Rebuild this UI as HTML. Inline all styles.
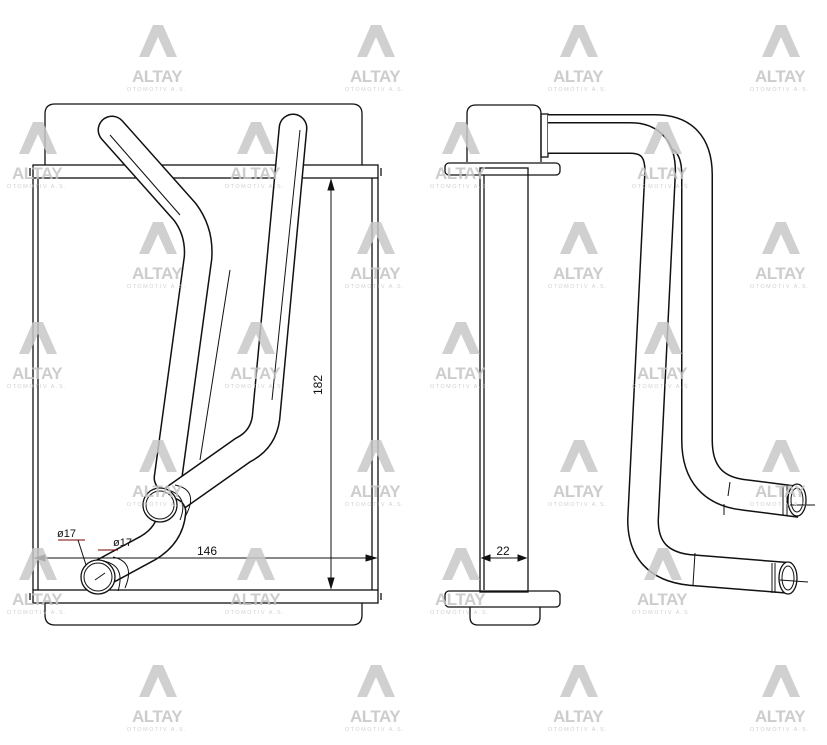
<!DOCTYPE html>
<html><head><meta charset="utf-8"><style>
html,body{margin:0;padding:0;background:#fff;}
svg{display:block;}
</style></head><body>
<svg width="827" height="745" viewBox="0 0 827 745" xmlns="http://www.w3.org/2000/svg" font-family="Liberation Sans, sans-serif">
<defs>
<g id="wm">
  <polygon points="-4,0 6,0 20,32 10,32 1,12 -8,32 -18,32" fill="#c8c8c8"/>
  <text x="0" y="57" text-anchor="middle" font-size="17" font-weight="bold" fill="#c4c4c4" letter-spacing="-0.5">ALTAY</text>
  <text x="0" y="66" text-anchor="middle" font-size="5.5" fill="#c8c8c8" letter-spacing="1.5">OTOMOTIV A.S.</text>
</g>
</defs>

<!-- LEFT VIEW -->
<g fill="none" stroke="#111" stroke-width="1.3">
  <path d="M45,165 L45,114 Q45,104 55,104 L352,104 Q362,104 362,114 L362,165"/>
  <rect x="33" y="165" width="345" height="13"/>
  <line x1="30" y1="168" x2="30" y2="176"/><line x1="381" y1="168" x2="381" y2="176"/>
  <line x1="33" y1="178" x2="33" y2="590"/><line x1="38" y1="178" x2="38" y2="590"/>
  <line x1="378" y1="178" x2="378" y2="590"/><line x1="372" y1="178" x2="372" y2="590"/>
  <rect x="33" y="590" width="345" height="13"/>
  <line x1="30" y1="593" x2="30" y2="600"/><line x1="381" y1="593" x2="381" y2="600"/>
  <path d="M45,603 L45,615 Q45,625 55,625 L352,625 Q362,625 362,615 L362,603"/>
</g>

<!-- left pipes -->
<g fill="none" stroke-linecap="round" stroke-linejoin="round">
  <path d="M112,130 L185,212 Q200,232 198,258 L168,478" stroke="#111" stroke-width="29"/>
  <path d="M112,130 L185,212 Q200,232 198,258 L168,478" stroke="#fff" stroke-width="26"/>
  <path d="M293,128 L266,418 Q263,440 243,450 L175,498" stroke="#111" stroke-width="29"/>
  <path d="M293,128 L266,418 Q263,440 243,450 L175,498" stroke="#fff" stroke-width="26"/>
  <path d="M100,574 L148,548 Q170,535 172,512" stroke="#111" stroke-width="29"/>
  <path d="M100,574 L148,548 Q170,535 172,512" stroke="#fff" stroke-width="26"/>
</g>
<g fill="none" stroke="#111" stroke-width="1">
  <line x1="110" y1="135" x2="180" y2="215"/>
  <line x1="300" y1="130" x2="272" y2="400"/>
  <line x1="230" y1="270" x2="200" y2="460"/>
  <!-- upper fitting -->
  <circle cx="160" cy="505" r="17" fill="#fff" stroke-width="1.3"/>
  <circle cx="160" cy="505" r="14"/>
  <path d="M165,489 Q190,495 180,520"/>
  <path d="M175,485 Q200,490 185,517"/>
  <!-- lower fitting -->
  <circle cx="98" cy="577" r="17" fill="#fff" stroke-width="1.3"/>
  <circle cx="98" cy="577" r="14"/>
  <path d="M103,561 Q126,565 118,591"/>
  <path d="M113,557 Q136,562 125,588"/>
  <line x1="95" y1="580" x2="105" y2="573"/>
</g>

<!-- dims left -->
<g stroke="#111" stroke-width="1" fill="#111">
  <line x1="331" y1="180" x2="331" y2="588"/>
  <polygon points="331,180 328,190 334,190"/><polygon points="331,588 328,578 334,578"/>
  <line x1="35" y1="558" x2="376" y2="558"/>
  <polygon points="35,558 45,555 45,561"/><polygon points="376,558 366,555 366,561"/>
  <line x1="58" y1="540" x2="85" y2="540" stroke="#700"/>
  <line x1="78" y1="540" x2="86" y2="565"/>
  <line x1="118" y1="550" x2="98" y2="550" stroke="#700"/>
</g>
<text x="322" y="385" font-size="12" text-anchor="middle" transform="rotate(-90 322 385)" fill="#111">182</text>
<text x="207" y="555" font-size="12" text-anchor="middle" fill="#111">146</text>
<text x="57" y="537" font-size="11" fill="#111">ø17</text>
<text x="113" y="546" font-size="11" fill="#111">ø17</text>

<!-- RIGHT VIEW -->
<g fill="none" stroke="#111" stroke-width="1.3">
  <path d="M467,162 L467,114 Q467,105 476,105 L532,105 Q541,105 541,114 L541,162"/>
  <rect x="541" y="114" width="7" height="43"/>
  <rect x="445" y="163" width="115" height="12" rx="4"/>
  <rect x="480" y="168" width="48" height="424"/>
  <line x1="484" y1="175" x2="484" y2="590"/>
  <rect x="445" y="591" width="115" height="16" rx="4"/>
  <path d="M470,607 L470,617 Q470,625 478,625 L532,625 Q540,625 540,617 L540,607"/>
</g>
<g stroke="#111" stroke-width="1" fill="#111">
  <line x1="482" y1="558" x2="526" y2="558"/>
  <polygon points="482,558 490,555 490,561"/><polygon points="526,558 518,555 518,561"/>
</g>
<text x="503" y="555" font-size="12" text-anchor="middle" fill="#111">22</text>

<!-- right pipes -->
<g fill="none" stroke-linejoin="round">
  <path d="M548,130 L655,130 Q697,130 697,175 L697,440 Q697,490 745,495 L800,502" stroke="#111" stroke-width="32"/>
  <path d="M548,130 L655,130 Q697,130 697,175 L697,440 Q697,490 745,495 L800,502" stroke="#fff" stroke-width="29"/>
  <path d="M548,138 L630,138 Q662,138 660,175 L643,520 Q643,565 690,570 L790,578" stroke="#111" stroke-width="32"/>
  <path d="M548,138 L630,138 Q662,138 660,175 L643,520 Q643,565 690,570 L790,578" stroke="#fff" stroke-width="29"/>
</g>
<g fill="none" stroke="#111" stroke-width="1">
  <ellipse cx="797" cy="500" rx="9" ry="16" fill="#fff" stroke-width="1.3"/>
  <ellipse cx="797" cy="500" rx="6" ry="12"/>
  <line x1="787" y1="486" x2="787" y2="516"/><line x1="783" y1="486" x2="783" y2="516"/>
  <line x1="730" y1="482" x2="728" y2="496"/><line x1="724" y1="504" x2="724" y2="515"/>
  <line x1="790" y1="505" x2="815" y2="505"/>
  <ellipse cx="788" cy="578" rx="9" ry="16" fill="#fff" stroke-width="1.3"/>
  <ellipse cx="788" cy="578" rx="6" ry="12"/>
  <line x1="775" y1="563" x2="775" y2="593"/><line x1="772" y1="563" x2="772" y2="593"/>
  <line x1="695" y1="553" x2="693" y2="585"/>
  <line x1="780" y1="580" x2="808" y2="582"/>
</g>

<!-- watermarks -->
<g opacity="0.85">
  <use href="#wm" x="157" y="25"/><use href="#wm" x="375" y="25"/><use href="#wm" x="578" y="25"/><use href="#wm" x="780" y="25"/>
  <use href="#wm" x="37" y="122"/><use href="#wm" x="255" y="122"/><use href="#wm" x="460" y="122"/><use href="#wm" x="662" y="122"/>
  <use href="#wm" x="157" y="222"/><use href="#wm" x="375" y="222"/><use href="#wm" x="578" y="222"/><use href="#wm" x="780" y="222"/>
  <use href="#wm" x="37" y="322"/><use href="#wm" x="255" y="322"/><use href="#wm" x="460" y="322"/><use href="#wm" x="662" y="322"/>
  <use href="#wm" x="157" y="440"/><use href="#wm" x="375" y="440"/><use href="#wm" x="578" y="440"/><use href="#wm" x="780" y="440"/>
  <use href="#wm" x="37" y="548"/><use href="#wm" x="255" y="548"/><use href="#wm" x="460" y="548"/><use href="#wm" x="662" y="548"/>
  <use href="#wm" x="157" y="665"/><use href="#wm" x="375" y="665"/><use href="#wm" x="578" y="665"/><use href="#wm" x="780" y="665"/>
</g>
</svg>
</body></html>
